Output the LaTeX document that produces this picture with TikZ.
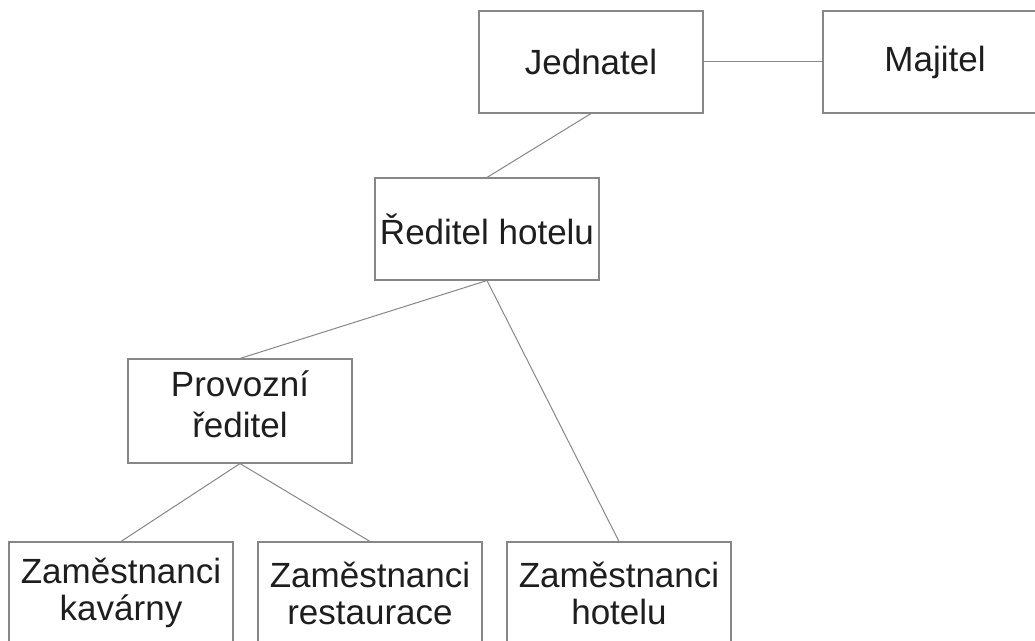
\documentclass[tikz,border=0pt]{standalone}
\usepackage{fontspec}
\setmainfont{Liberation Sans}
\usepackage{tikz}
\usepackage{xcolor}
\definecolor{boxline}{RGB}{135,135,135}
\definecolor{boxtext}{RGB}{30,30,30}

\begin{document}
\begin{tikzpicture}[x=1pt, y=1pt,
  orgbox/.style={rectangle, draw=boxline, line width=1.1pt, text=boxtext, align=center,
    minimum width=224pt, minimum height=102pt, inner sep=0pt,
    font=\fontsize{35}{37}\selectfont},
  orgline/.style={draw=boxline, line width=1pt}]
\useasboundingbox (0,0) rectangle (1035,640);
\fill[white] (0,0) rectangle (1035,640);

\node[orgbox] (jednatel) at (591,578) {Jednatel};
\node[orgbox] (majitel) at (935,578) {Majitel};
\node[orgbox] (reditel) at (487,411) {Ředitel hotelu};
\node[orgbox, minimum height=104pt, text depth=14pt, font=\fontsize{35}{41}\selectfont] (provozni) at (240,229) {Provozní\\ředitel};
\node[orgbox] (kavarny) at (121,47) {Zaměstnanci\\kavárny};
\node[orgbox] (restaurace) at (370,47) {Zaměstnanci\\restaurace};
\node[orgbox] (hotelu) at (619,47) {Zaměstnanci\\hotelu};

\draw[orgline] (jednatel.east) -- (majitel.west);
\draw[orgline] (jednatel.south) -- (reditel.north);
\draw[orgline] (reditel.south) -- (provozni.north);
\draw[orgline] (reditel.south) -- (hotelu.north);
\draw[orgline] (provozni.south) -- (kavarny.north);
\draw[orgline] (provozni.south) -- (restaurace.north);
\end{tikzpicture}
\end{document}
